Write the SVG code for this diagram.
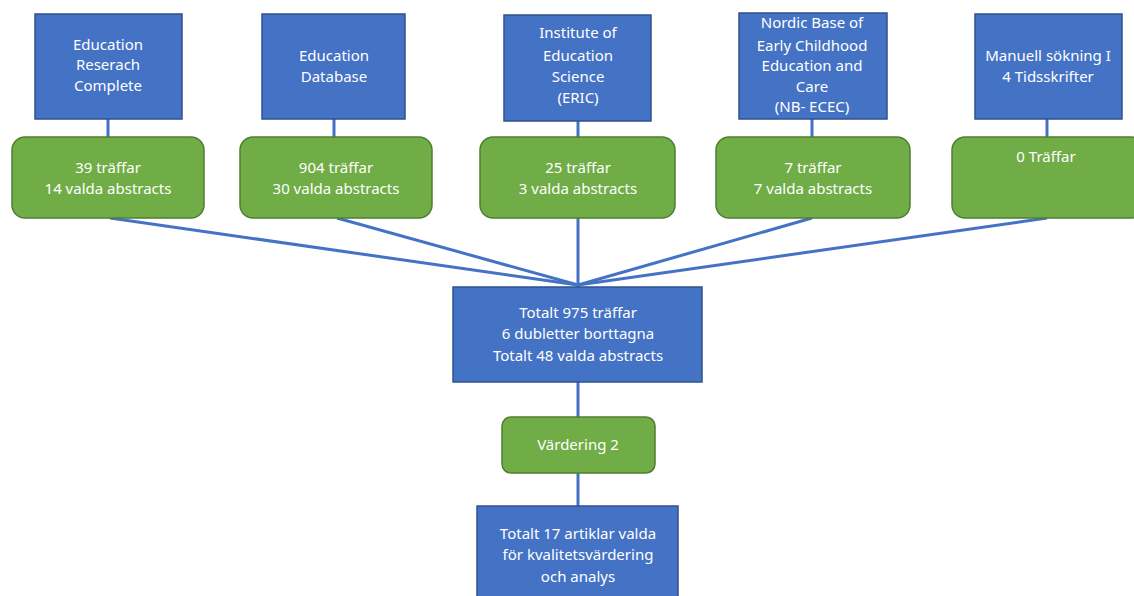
<svg xmlns="http://www.w3.org/2000/svg" width="1134" height="596" viewBox="0 0 1134 596">
<style>
.b{fill:#4472C4;stroke:#2F528F;stroke-width:1.5}
.g{fill:#70AD47;stroke:#507E32;stroke-width:1.5}
.t{font-family:"Noto Sans","Open Sans",sans-serif;font-size:15px;fill:#fff;text-anchor:middle}
.c{stroke:#4472C4;stroke-width:3;fill:none}
</style>
<rect width="1134" height="596" fill="#fff"/>
<g id="connectors">
<line class="c" x1="108" y1="119" x2="108" y2="137"/>
<line class="c" x1="334" y1="119" x2="334" y2="137"/>
<line class="c" x1="578" y1="121" x2="578" y2="137"/>
<line class="c" x1="812" y1="119" x2="812" y2="137"/>
<line class="c" x1="1047" y1="119" x2="1047" y2="137"/>
<line class="c" x1="110" y1="218" x2="578" y2="285"/>
<line class="c" x1="337" y1="218" x2="578" y2="285"/>
<line class="c" x1="578" y1="218" x2="578" y2="287"/>
<line class="c" x1="812" y1="218" x2="578" y2="285"/>
<line class="c" x1="1047" y1="218" x2="578" y2="285"/>
<line class="c" x1="578" y1="382" x2="578" y2="417"/>
<line class="c" x1="578" y1="473" x2="578" y2="506"/>
</g>
<g id="src1"><rect class="b" x="35" y="14" width="147" height="105"/>
<text class="t" x="108" y="50">Education</text><text class="t" x="108" y="70">Reserach</text><text class="t" x="108" y="91">Complete</text></g>
<g id="src2"><rect class="b" x="262" y="14" width="143" height="105"/>
<text class="t" x="334" y="61">Education</text><text class="t" x="334" y="82">Database</text></g>
<g id="src3"><rect class="b" x="504" y="15" width="147" height="106"/>
<text class="t" x="578" y="38">Institute of</text><text class="t" x="578" y="61">Education</text><text class="t" x="578" y="82">Science</text><text class="t" x="578" y="103">(ERIC)</text></g>
<g id="src4"><rect class="b" x="739" y="13" width="148" height="106"/>
<text class="t" x="812" y="28">Nordic Base of</text><text class="t" x="812" y="51">Early Childhood</text><text class="t" x="812" y="71">Education and</text><text class="t" x="812" y="92">Care</text><text class="t" x="812" y="112">(NB- ECEC)</text></g>
<g id="src5"><rect class="b" x="975" y="14" width="147" height="105"/>
<text class="t" x="1048" y="61">Manuell sökning I</text><text class="t" x="1048" y="82">4 Tidsskrifter</text></g>
<g id="res1"><rect class="g" x="12" y="137" width="192" height="81" rx="13"/>
<text class="t" x="108" y="173">39 träffar</text><text class="t" x="108" y="194">14 valda abstracts</text></g>
<g id="res2"><rect class="g" x="240" y="137" width="192" height="81" rx="13"/>
<text class="t" x="336" y="173">904 träffar</text><text class="t" x="336" y="194">30 valda abstracts</text></g>
<g id="res3"><rect class="g" x="480" y="137" width="195" height="81" rx="13"/>
<text class="t" x="578" y="173">25 träffar</text><text class="t" x="578" y="194">3 valda abstracts</text></g>
<g id="res4"><rect class="g" x="716" y="137" width="194" height="81" rx="13"/>
<text class="t" x="813" y="173">7 träffar</text><text class="t" x="813" y="194">7 valda abstracts</text></g>
<g id="res5"><rect class="g" x="952" y="137" width="192" height="81" rx="13"/>
<text class="t" x="1046" y="162">0 Träffar</text></g>
<g id="total"><rect class="b" x="453" y="287" width="249" height="95"/>
<text class="t" x="578" y="318">Totalt 975 träffar</text><text class="t" x="578" y="339">6 dubletter borttagna</text><text class="t" x="578" y="361">Totalt 48 valda abstracts</text></g>
<g id="vardering"><rect class="g" x="502" y="417" width="153" height="56" rx="9"/>
<text class="t" x="578" y="450">Värdering 2</text></g>
<g id="final"><rect class="b" x="477" y="506" width="201" height="100"/>
<text class="t" x="578" y="539">Totalt 17 artiklar valda</text><text class="t" x="578" y="560">för kvalitetsvärdering</text><text class="t" x="578" y="582">och analys</text></g>
</svg>
